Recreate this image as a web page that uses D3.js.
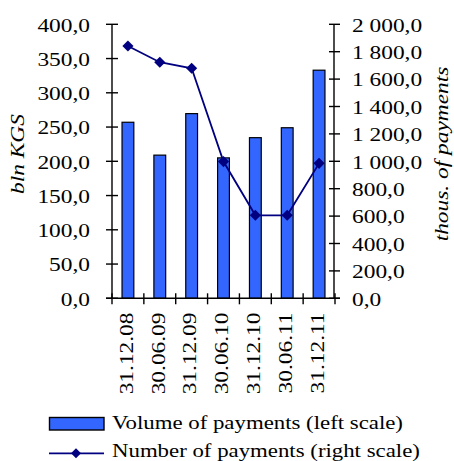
<!DOCTYPE html>
<html><head><meta charset="utf-8">
<script src="https://cdn.jsdelivr.net/npm/d3@7/dist/d3.min.js"></script>
<style>html,body{margin:0;padding:0;background:#fff;}svg{display:block;}</style>
</head><body>
<script>
const categories = ["31.12.08","30.06.09","31.12.09","30.06.10","31.12.10","30.06.11","31.12.11"];
const volume = [257, 209, 269.6, 205, 234.5, 249, 333];       // bln KGS, left scale
const payments = [1842, 1723, 1679, 998, 606, 606, 985];     // thous., right scale
const leftTicks = [0,50,100,150,200,250,300,350,400];
const rightTicks = [0,200,400,600,800,1000,1200,1400,1600,1800,2000];
const seriesNames = ["Volume of payments (left scale)", "Number of payments (right scale)"];
const axisTitles = ["bln KGS", "thous. of payments"];

const W = 454, H = 461;
const FONT = "'Liberation Serif','Times New Roman',serif";
const FS = 19.5, SX = 1.2;
const BAR = "#3366FF", LINE = "#000080";

const svg = d3.select("body").append("svg").attr("width", W).attr("height", H);

const x0 = 112, x1 = 335, yTop = 24.3, yBot = 298.3;
const x = d3.scaleBand().domain(categories).range([x0, x1]).paddingInner(0.63).paddingOuter(0.315);
const yL = d3.scaleLinear().domain([0, 400]).range([yBot, yTop]);
const yR = d3.scaleLinear().domain([0, 2000]).range([yBot, yTop]);

const loc = d3.formatLocale({decimal: ",", thousands: "\u00a0", grouping: [3], currency: ["", ""]});
const fmt = loc.format(",.1f");

function txt(g, s, tx, ty, rot, anchor, opts = {}) {
  const fs = opts.fs || FS, sx = opts.sx || SX;
  const t = g.append("text")
    .attr("transform", `translate(${tx},${ty}) rotate(${rot}) scale(${sx},1)`)
    .attr("text-anchor", anchor)
    .attr("dominant-baseline", opts.baseline || "central")
    .style("font-family", FONT).style("font-size", fs + "px")
    .style("fill", "#000")
    .text(s);
  if (opts.italic) t.style("font-style", "italic");
  return t;
}

// bars
svg.append("g").selectAll("rect").data(categories).join("rect")
  .attr("x", d => x(d)).attr("width", x.bandwidth())
  .attr("y", (d, i) => yL(volume[i])).attr("height", (d, i) => yBot - yL(volume[i]))
  .attr("fill", BAR).attr("stroke", "#000").attr("stroke-width", 1.2);

// axes
const ax = svg.append("g").attr("stroke", "#000").attr("stroke-width", 1.4);
ax.append("line").attr("x1", x0).attr("x2", x0).attr("y1", yTop).attr("y2", yBot);
ax.append("line").attr("x1", x1 - 1).attr("x2", x1 - 1).attr("y1", yTop).attr("y2", yBot);
ax.append("line").attr("x1", x0 - 6).attr("x2", x1 + 5).attr("y1", yBot).attr("y2", yBot);
ax.selectAll(".tl").data(leftTicks).join("line")
  .attr("x1", x0 - 6).attr("x2", x0 + 6).attr("y1", d => yL(d)).attr("y2", d => yL(d));
ax.selectAll(".tr").data(rightTicks).join("line")
  .attr("x1", x1 - 6).attr("x2", x1 + 5).attr("y1", d => yR(d)).attr("y2", d => yR(d));
const step = x.step();
ax.selectAll(".tx").data(d3.range(categories.length + 1)).join("line")
  .attr("x1", i => x0 + i * step).attr("x2", i => x0 + i * step)
  .attr("y1", yBot - 5).attr("y2", yBot + 6);

// tick labels
const tg = svg.append("g");
leftTicks.forEach(v => txt(tg, fmt(v), 90, yL(v) + 1, 0, "end"));
rightTicks.forEach(v => txt(tg, fmt(v), 352, yR(v) + 1, 0, "start"));
categories.forEach(c => txt(tg, c, x(c) + x.bandwidth() / 2 - 1.5, 312.5, -90, "end"));

// axis titles
txt(tg, axisTitles[0], 18, 154, -90, "middle", {italic: true});
txt(tg, axisTitles[1], 442, 154, -90, "middle", {italic: true});

// line
const xc = (d) => x(d) + x.bandwidth() / 2;
const line = d3.line().x((d, i) => xc(categories[i])).y(d => yR(d));
svg.append("path").datum(payments).attr("d", line)
  .attr("fill", "none").attr("stroke", LINE).attr("stroke-width", 1.8);
svg.append("g").selectAll("path").data(payments).join("path")
  .attr("transform", (d, i) => `translate(${xc(categories[i])},${yR(d)}) rotate(45)`)
  .attr("d", d3.symbol().type(d3.symbolSquare).size(62))
  .attr("fill", LINE);

// legend
const lg = svg.append("g");
lg.append("rect").attr("x", 49.5).attr("y", 417.5).attr("width", 54.5).attr("height", 12.5)
  .attr("fill", BAR).attr("stroke", "#000").attr("stroke-width", 1.4);
txt(lg, seriesNames[0], 112, 422.5, 0, "start", {sx: 1.17});
lg.append("line").attr("x1", 49).attr("x2", 104).attr("y1", 453.3).attr("y2", 453.3)
  .attr("stroke", LINE).attr("stroke-width", 1.8);
lg.append("path").attr("transform", "translate(76,453.3) rotate(45)")
  .attr("d", d3.symbol().type(d3.symbolSquare).size(50)).attr("fill", LINE);
txt(lg, seriesNames[1], 112, 451, 0, "start", {sx: 1.17});
</script>
</body></html>
